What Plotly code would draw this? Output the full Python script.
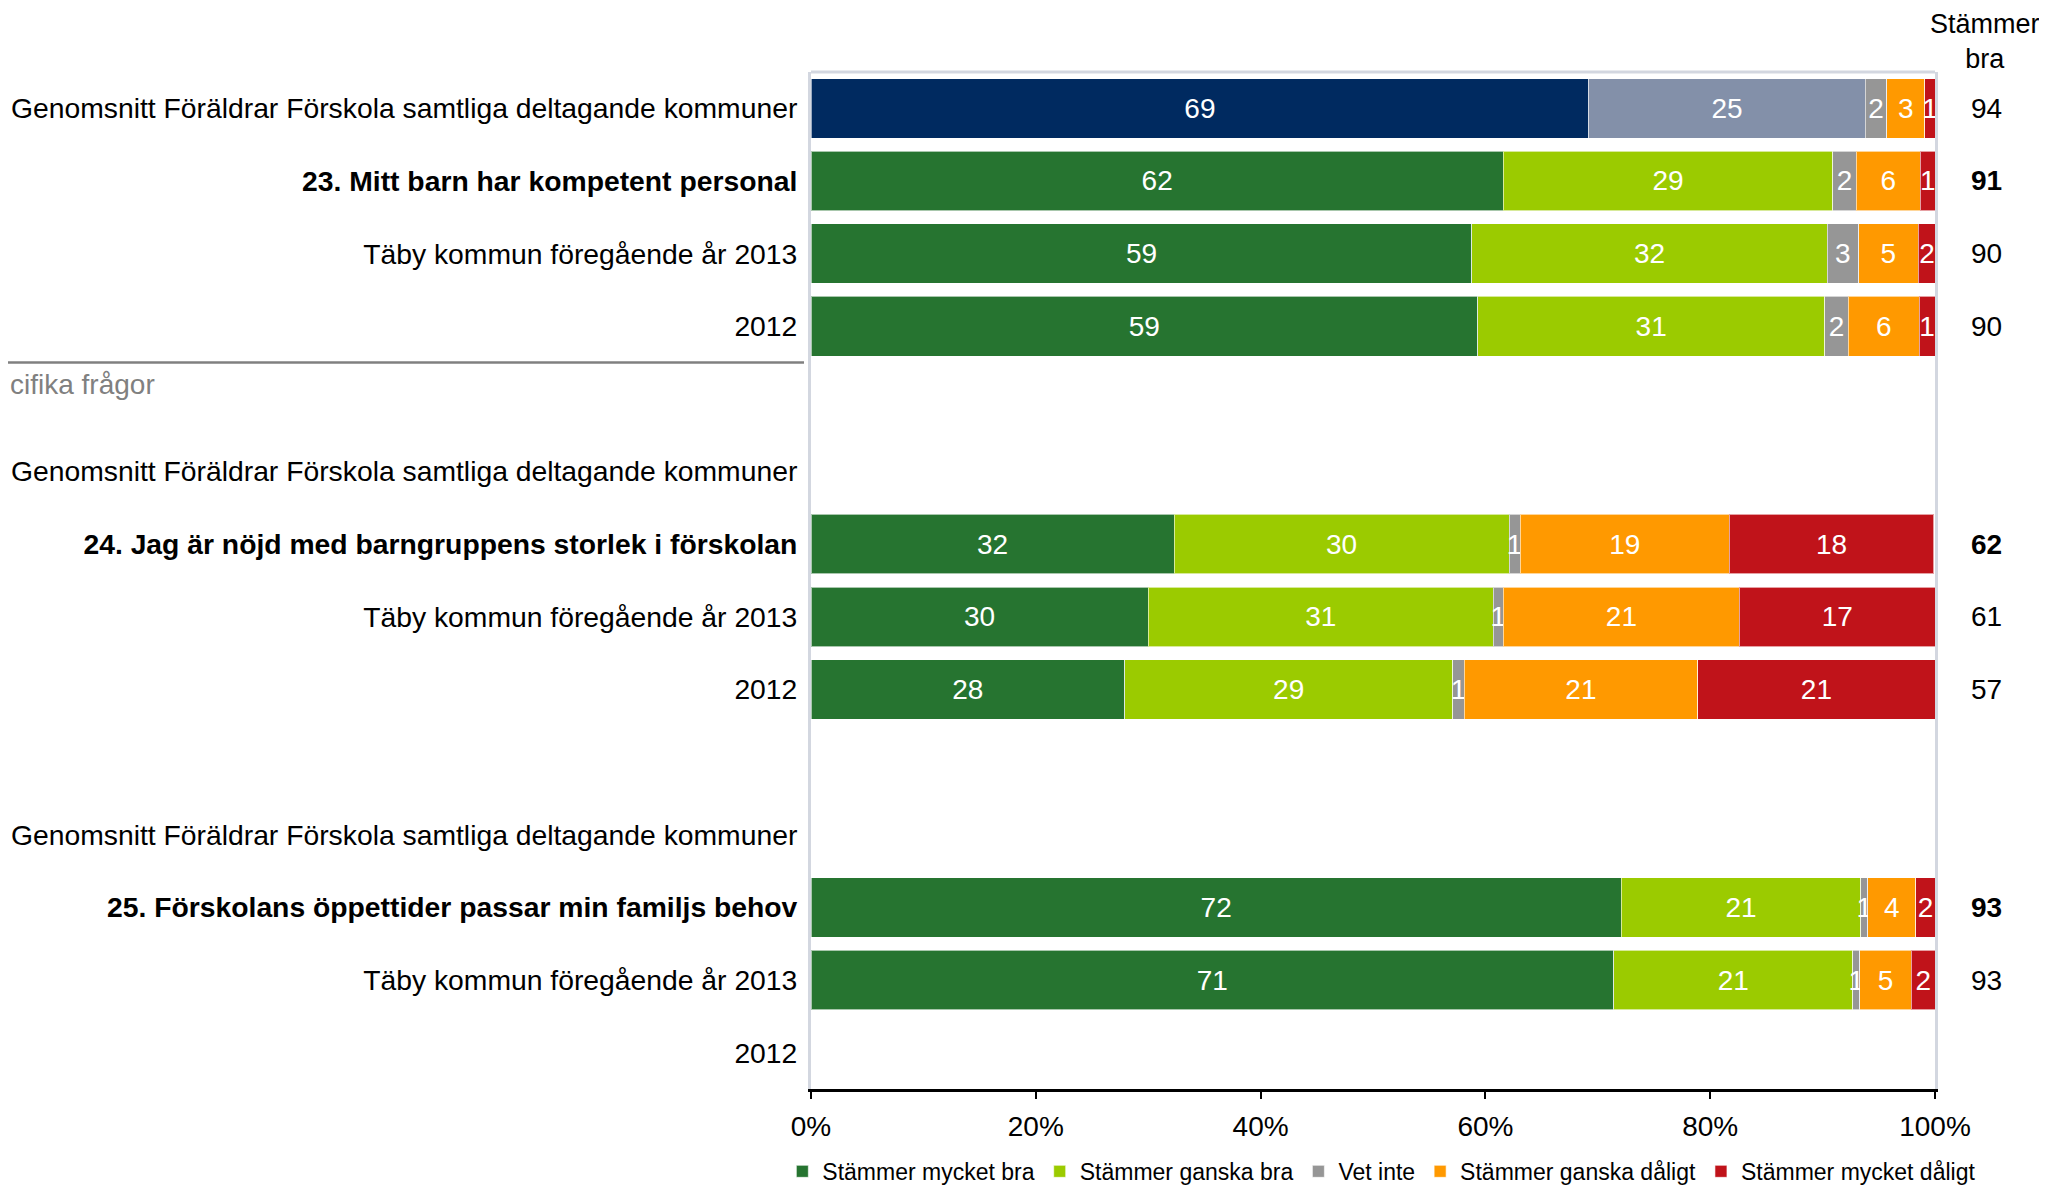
import plotly.graph_objects as go

# ---------------- data ----------------
row_labels = [
    "Genomsnitt Föräldrar Förskola samtliga deltagande kommuner",
    "23. Mitt barn har kompetent personal",
    "Täby kommun föregående år 2013",
    "2012",
    "",
    "Genomsnitt Föräldrar Förskola samtliga deltagande kommuner",
    "24. Jag är nöjd med barngruppens storlek i förskolan",
    "Täby kommun föregående år 2013",
    "2012",
    "",
    "Genomsnitt Föräldrar Förskola samtliga deltagande kommuner",
    "25. Förskolans öppettider passar min familjs behov",
    "Täby kommun föregående år 2013",
    "2012",
]
bold_rows = [1, 6, 11]
average_rows = [0]  # drawn in the "average" palette

series_names = ["Stämmer mycket bra", "Stämmer ganska bra", "Vet inte",
                "Stämmer ganska dåligt", "Stämmer mycket dåligt"]

mycket_bra    = [69.2, 61.6, 58.8, 59.3, None, None, 32.3, 30.0, 27.9, None, None, 72.1, 71.4, None]
ganska_bra    = [24.6, 29.3, 31.6, 30.9, None, None, 29.8, 30.7, 29.2, None, None, 21.3, 21.3, None]
vet_inte      = [1.9, 2.1, 2.8, 2.1, None, None, 1.0, 0.9, 1.0, None, None, 0.6, 0.6, None]
ganska_daligt = [3.4, 5.7, 5.3, 6.3, None, None, 18.6, 21.0, 20.8, None, None, 4.3, 4.6, None]
mycket_daligt = [0.9, 1.3, 1.6, 1.4, None, None, 18.2, 17.4, 21.1, None, None, 1.7, 2.1, None]

stammer_bra_total = [94, 91, 90, 90, None, None, 62, 61, 57, None, None, 93, 93, None]

x_ticks = [0, 20, 40, 60, 80, 100]
x_tick_labels = ["0%", "20%", "40%", "60%", "80%", "100%"]
section_label = "cifika frågor"
total_header = "Stämmer<br>bra"

# ---------------- style ----------------
colors_main = ["#267430", "#9BCB00", "#969696", "#FF9900", "#C0131A"]
colors_avg = ["#002A60", "#8390A9", "#969696", "#FF9900", "#C0131A"]
FONT = "Liberation Sans, Arial, sans-serif"
FS = 28

# page body has an 8px margin: place the plot area so it lands at the
# reference pixel positions (plot area 811..1935 x 72..1089 on the page)
W, H = 2039, 1178
L, T = 803, 64
PW, PH = 1124, 1017

all_series = [mycket_bra, ganska_bra, vet_inte, ganska_daligt, mycket_daligt]
ypos = list(range(len(row_labels)))

fig = go.Figure()
for i, (name, vals) in enumerate(zip(series_names, all_series)):
    main_vals = [None if r in average_rows else v for r, v in enumerate(vals)]
    avg_vals = [v if r in average_rows else None for r, v in enumerate(vals)]
    for values, col, show in ((main_vals, colors_main[i], True), (avg_vals, colors_avg[i], False)):
        fig.add_trace(go.Bar(
            x=values, y=ypos, orientation="h", name=name,
            marker=dict(color=col, line=dict(color="rgba(255,255,255,0.6)", width=1)),
            text=values, texttemplate="%{x:.0f}", textposition="inside",
            insidetextanchor="middle", textangle=0, constraintext="none",
            textfont=dict(color="white", size=FS, family=FONT),
            showlegend=show, hoverinfo="skip",
        ))

ticktext = [f"<b>{t}</b>" if r in bold_rows else t for r, t in enumerate(row_labels)]

fig.update_layout(
    width=W, height=H,
    barmode="stack", bargap=0.18,
    plot_bgcolor="white", paper_bgcolor="white",
    margin=dict(l=L, r=W - L - PW, t=T, b=H - T - PH, autoexpand=False),
    font=dict(family=FONT, size=FS, color="black"),
    uniformtext=dict(minsize=FS, mode="show"),
    xaxis=dict(range=[0, 100], tickmode="array", tickvals=x_ticks, ticktext=x_tick_labels,
               showgrid=False, zeroline=False, showline=True, linecolor="black", linewidth=3,
               ticks="outside", ticklen=7, tickwidth=2, tickcolor="black",
               tickfont=dict(size=FS), ticklabelstandoff=3),
    yaxis=dict(range=[len(row_labels) - 0.5, -0.5], tickmode="array", tickvals=ypos,
               ticktext=ticktext, showgrid=False, zeroline=False, showline=True, mirror=True,
               linecolor="#D3D7E0", linewidth=3, ticks="outside", ticklen=5,
               tickcolor="rgba(0,0,0,0)", tickfont=dict(size=28.3)),
    legend=dict(orientation="h", x=-0.0255, xanchor="left", y=-0.081, yanchor="middle",
                font=dict(size=23), itemwidth=30, traceorder="normal"),
)

# top frame line
fig.add_shape(type="line", xref="paper", yref="paper", x0=0, x1=1, y0=1, y1=1,
              line=dict(color="#D3D7E0", width=3))
# section separator
fig.add_shape(type="line", xref="paper", yref="y", x0=-L / PW, x1=-7 / PW,
              y0=3.5, y1=3.5, line=dict(color="#808080", width=2.5))
fig.add_annotation(xref="paper", yref="y", x=-L / PW, y=3.8, text=section_label,
                   showarrow=False, xanchor="left", yanchor="middle",
                   font=dict(size=FS, color="#808080"))

# totals column
for r, t in enumerate(stammer_bra_total):
    if t is None:
        continue
    txt = f"<b>{t}</b>" if r in bold_rows else str(t)
    fig.add_annotation(xref="paper", yref="y", x=1.0454, y=r, text=txt, showarrow=False,
                       xanchor="center", yanchor="middle", font=dict(size=FS))
fig.add_annotation(xref="paper", yref="paper", x=1.0445, y=1.0295, text=total_header,
                   showarrow=False, xanchor="center", yanchor="middle",
                   font=dict(size=27))

fig.write_html("out.html")
